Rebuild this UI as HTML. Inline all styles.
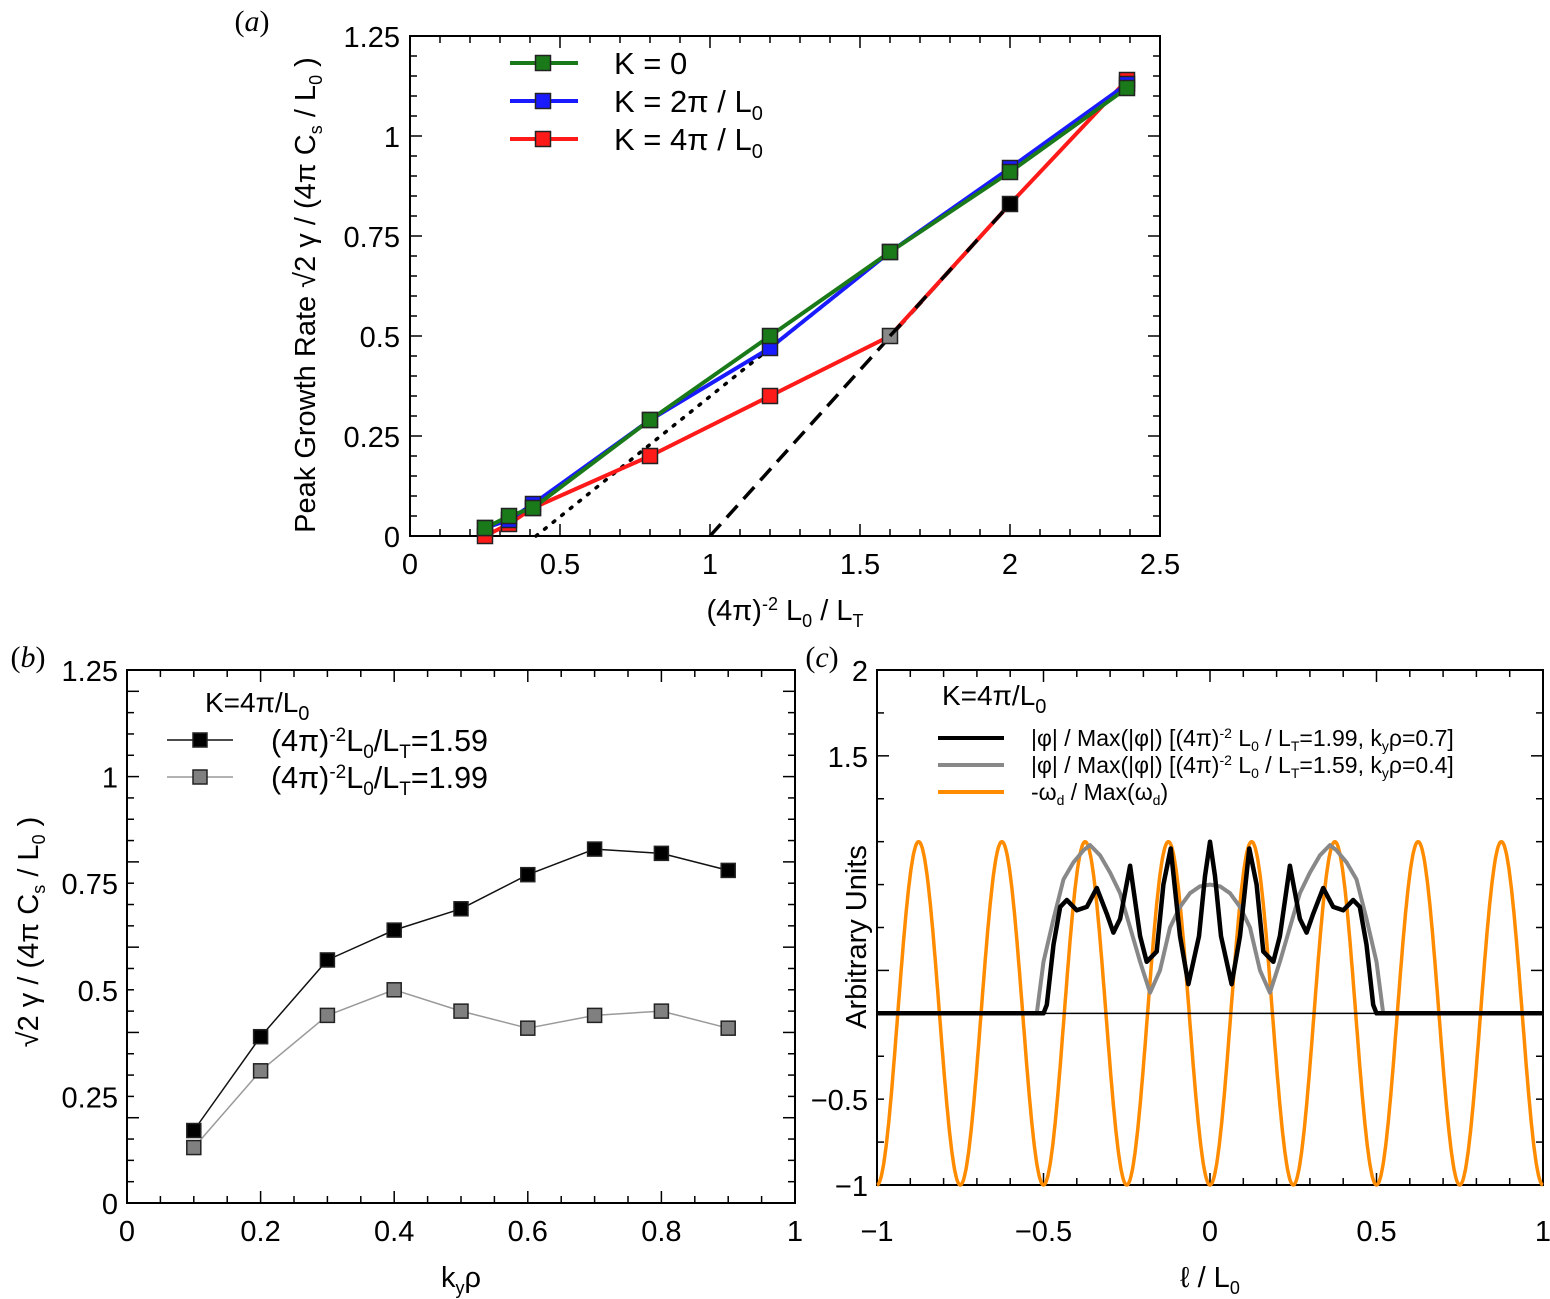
<!DOCTYPE html>
<html><head><meta charset="utf-8"><style>
html,body{margin:0;padding:0;background:#fff;}
svg{display:block;font-family:"Liberation Sans",sans-serif;}
</style></head><body>
<svg id="fig" width="1550" height="1299" viewBox="0 0 1550 1299" xmlns="http://www.w3.org/2000/svg"></svg>
<script>
// ---------- Panel (a) data ----------
const aX = [0.25, 0.33, 0.41, 0.8, 1.2, 1.6, 2.0, 2.39];
const aK0 = [0.02, 0.05, 0.07, 0.29, 0.50, 0.71, 0.91, 1.12];
const aK2 = [0.02, 0.04, 0.08, 0.29, 0.47, 0.71, 0.92, 1.13];
const aK4 = [0.00, 0.03, 0.07, 0.20, 0.35, 0.50, 0.83, 1.14];
const aDotted = [[0.42, 0], [1.6, 0.71]];
const aDashed = [[1.0, 0], [2.0, 0.83]];
const aXTicks = [0, 0.5, 1, 1.5, 2, 2.5];
const aYTicks = [0, 0.25, 0.5, 0.75, 1, 1.25];
const aYTickLabels = ["0", "0.25", "0.5", "0.75", "1", "1.25"];
// ---------- Panel (b) data ----------
const bX = [0.1, 0.2, 0.3, 0.4, 0.5, 0.6, 0.7, 0.8, 0.9];
const bLT159 = [0.17, 0.39, 0.57, 0.64, 0.69, 0.77, 0.83, 0.82, 0.78];
const bLT199 = [0.13, 0.31, 0.44, 0.50, 0.45, 0.41, 0.44, 0.45, 0.41];
const bXTicks = [0, 0.2, 0.4, 0.6, 0.8, 1];
const bYTicks = [0, 0.25, 0.5, 0.75, 1, 1.25];
// ---------- Panel (c) data ----------
const cPhiBlackL = [-1, -0.5, -0.49, -0.47, -0.45, -0.43, -0.40, -0.37, -0.34, -0.31, -0.29, -0.27, -0.24, -0.21, -0.19, -0.16, -0.14, -0.118, -0.09, -0.065, -0.033, -0.015, 0, 0.015, 0.033, 0.065, 0.09, 0.118, 0.14, 0.16, 0.19, 0.21, 0.24, 0.27, 0.29, 0.31, 0.34, 0.37, 0.40, 0.43, 0.45, 0.47, 0.49, 0.5, 1];
const cPhiBlackV = [0, 0, 0.05, 0.40, 0.62, 0.66, 0.60, 0.62, 0.73, 0.58, 0.47, 0.55, 0.86, 0.45, 0.30, 0.36, 0.75, 0.96, 0.45, 0.17, 0.45, 0.80, 1.0, 0.80, 0.45, 0.17, 0.45, 0.96, 0.75, 0.36, 0.30, 0.45, 0.86, 0.55, 0.47, 0.58, 0.73, 0.62, 0.60, 0.66, 0.62, 0.40, 0.05, 0, 0];
const cPhiGrayL = [-1, -0.52, -0.50, -0.47, -0.44, -0.41, -0.38, -0.36, -0.33, -0.30, -0.27, -0.24, -0.21, -0.18, -0.15, -0.12, -0.09, -0.06, -0.03, 0, 0.03, 0.06, 0.09, 0.12, 0.15, 0.18, 0.21, 0.24, 0.27, 0.30, 0.33, 0.36, 0.38, 0.41, 0.44, 0.47, 0.50, 0.52, 1];
const cPhiGrayV = [0, 0, 0.30, 0.55, 0.78, 0.88, 0.95, 0.98, 0.92, 0.82, 0.70, 0.50, 0.30, 0.12, 0.25, 0.50, 0.62, 0.70, 0.74, 0.75, 0.74, 0.70, 0.62, 0.50, 0.25, 0.12, 0.30, 0.50, 0.70, 0.82, 0.92, 0.98, 0.95, 0.88, 0.78, 0.55, 0.30, 0, 0];
const cOmegaPeriod = [0.25];
const cOmegaAmp = [1];
const cXTicks = [-1, -0.5, 0, 0.5, 1];
const cXTickLabels = ["\u22121", "\u22120.5", "0", "0.5", "1"];
const cYTicksLabeled = [-1, -0.5, 1.5, 2];
const cYTickLabels = ["\u22121", "\u22120.5", "1.5", "2"];

const NS = "http://www.w3.org/2000/svg";
const svg = document.getElementById("fig");
function mk(tag, attrs, parent) {
  const e = document.createElementNS(NS, tag);
  for (const k in attrs) e.setAttribute(k, attrs[k]);
  (parent || svg).appendChild(e);
  return e;
}
function txt(s, x, y, size, anchor, parent, extra) {
  const t = mk("text", Object.assign({x: x, y: y, "font-size": size, "text-anchor": anchor || "middle", fill: "#000"}, extra || {}), parent);
  t.innerHTML = s;
  return t;
}
function axes(g, L, R, T, B, xMin, xMax, yMin, yMax, xMinor, yMinor, tl) {
  const sx = v => L + (v - xMin) / (xMax - xMin) * (R - L);
  const sy = v => B - (v - yMin) / (yMax - yMin) * (B - T);
  const box = mk("rect", {x: L, y: T, width: R - L, height: B - T, fill: "none", stroke: "#000", "stroke-width": 2}, g);
  
  
  for (let i = 0; ; i++) {
    const v = xMin + i * xMinor; if (v > xMax + 1e-9) break;
    const major = Math.abs((v - xMin) / (xMinor * tl) - Math.round((v - xMin) / (xMinor * tl))) < 1e-6;
    const len = major ? 12 : 7;
    mk("line", {x1: sx(v), x2: sx(v), y1: B, y2: B - len, stroke: "#000", "stroke-width": 1.5}, g);
    mk("line", {x1: sx(v), x2: sx(v), y1: T, y2: T + len, stroke: "#000", "stroke-width": 1.5}, g);
  }
  for (let i = 0; ; i++) {
    const v = yMin + i * yMinor; if (v > yMax + 1e-9) break;
    const major = Math.abs((v - yMin) / (yMinor * tl) - Math.round((v - yMin) / (yMinor * tl))) < 1e-6;
    const len = major ? 12 : 7;
    mk("line", {x1: L, x2: L + len, y1: sy(v), y2: sy(v), stroke: "#000", "stroke-width": 1.5}, g);
    mk("line", {x1: R, x2: R - len, y1: sy(v), y2: sy(v), stroke: "#000", "stroke-width": 1.5}, g);
  }
  return {sx, sy};
}
function poly(g, xs, ys, sx, sy, color, w, dash) {
  const pts = xs.map((x, i) => sx(x).toFixed(1) + "," + sy(ys[i]).toFixed(1)).join(" ");
  const a = {points: pts, fill: "none", stroke: color, "stroke-width": w, "stroke-linejoin": "round"};
  if (dash) a["stroke-dasharray"] = dash;
  return mk("polyline", a, g);
}
function marker(g, x, y, fill, s) {
  s = s || 15;
  return mk("rect", {x: x - s / 2, y: y - s / 2, width: s, height: s, fill: fill, stroke: "#222", "stroke-width": 1.5}, g);
}

// ================= Panel (a) =================
const ga = mk("g", {});


const A = axes(ga, 410, 1160, 36, 536, 0, 2.5, 0, 1.25, 0.1, 0.05, 5);
aXTicks.forEach(v => { const t = txt(String(v), A.sx(v), 574, 29, "middle", ga);
    });
aYTicks.forEach((v, i) => { const t = txt(aYTickLabels[i], 400, A.sy(v) + 11, 29, "end", ga);
    });
const aXt = txt('(4π)<tspan dy="-10" font-size="18">-2</tspan><tspan dy="10"> L</tspan><tspan dy="7" font-size="18">0</tspan><tspan dy="-7"> / L</tspan><tspan dy="7" font-size="18">T</tspan>', 785, 620, 29, "middle", ga);


const aYt = txt('Peak Growth Rate √2 γ / (4π C<tspan dy="7" font-size="18">s</tspan><tspan dy="-7"> / L</tspan><tspan dy="7" font-size="18">0</tspan><tspan dy="-7"> )</tspan>', 0, 0, 29, "middle", ga, {transform: "translate(315,295) rotate(-90)"});


const la = txt("(<tspan font-style='italic'>a</tspan>)", 252, 31, 30, "middle", ga, {"font-family": "Liberation Serif, serif"});



const dot = poly(ga, aDotted.map(p => p[0]), aDotted.map(p => p[1]), A.sx, A.sy, "#000", 3.5, "2 9");
dot.setAttribute('stroke-linecap', 'round');


const dsh = poly(ga, aDashed.map(p => p[0]), aDashed.map(p => p[1]), A.sx, A.sy, "#000", 3.5, "16 9");



const aSeries = [[aK4, "#ff1a1a", "series-k-4pi"], [aK2, "#1a1aff", "series-k-2pi"], [aK0, "#1a7a1a", "series-k-0"]];
aSeries.forEach(s => {
  const l = poly(ga, aX, s[0], A.sx, A.sy, s[1], 4);
  
  
  aX.forEach((x, i) => {
    let f = s[1];
    if (s[2] === "series-k-4pi" && i === 5) f = "#888";
    if (s[2] === "series-k-4pi" && i === 6) f = "#000";
    const m = marker(ga, A.sx(x), A.sy(s[0][i]), f, 15);
    
    
  });
});
const dsh2 = poly(ga, [1.6, 2.0], [0.5, 0.83], A.sx, A.sy, "#000", 3.5, "16 22");


const aLeg = [["K = 0", "#1a7a1a", 63], ["K = 2π / L<tspan dy='8' font-size='20'>0</tspan>", "#1a1aff", 101], ["K = 4π / L<tspan dy='8' font-size='20'>0</tspan>", "#ff1a1a", 139]];
aLeg.forEach(e => {
  const g = mk("g", {}, ga);
  
  
  mk("line", {x1: 510, x2: 578, y1: e[2], y2: e[2], stroke: e[1], "stroke-width": 4}, g);
  marker(g, 543, e[2], e[1], 15);
  txt(e[0], 614, e[2] + 11, 31, "start", g);
});

// ================= Panel (b) =================
const gb = mk("g", {});


const B = axes(gb, 127, 795, 670, 1203, 0, 1, 0, 1.25, 0.05, 0.05, 4);
bXTicks.forEach(v => { const t = txt(String(v), B.sx(v), 1241, 29, "middle", gb);
    });
bYTicks.forEach(v => { const t = txt(String(v), 118, B.sy(v) + 11, 29, "end", gb);
    });
const bXt = txt('k<tspan dy="7" font-size="18">y</tspan><tspan dy="-7">ρ</tspan>', 461, 1287, 29, "middle", gb);


const bYt = txt('√2 γ / (4π C<tspan dy="7" font-size="18">s</tspan><tspan dy="-7"> / L</tspan><tspan dy="7" font-size="18">0</tspan><tspan dy="-7"> )</tspan>', 0, 0, 29, "middle", gb, {transform: "translate(38,932) rotate(-90)"});


const lb = txt("(<tspan font-style='italic'>b</tspan>)", 28, 667, 30, "middle", gb, {"font-family": "Liberation Serif, serif"});


const bT = txt('K=4π/L<tspan dy="8" font-size="20">0</tspan>', 205, 712, 28, "start", gb);


const bl2 = poly(gb, bX, bLT199, B.sx, B.sy, "#999", 1.5);


const bl1 = poly(gb, bX, bLT159, B.sx, B.sy, "#111", 1.5);


bX.forEach((x, i) => {
  const m = marker(gb, B.sx(x), B.sy(bLT199[i]), "#808080", 14);
  
  
  const n = marker(gb, B.sx(x), B.sy(bLT159[i]), "#000", 14);
  
  
});
[["#000", "#111", 740, "1.59"], ["#808080", "#999", 777, "1.99"]].forEach(e => {
  const g = mk("g", {}, gb);
  
  
  mk("line", {x1: 167, x2: 233, y1: e[2], y2: e[2], stroke: e[1], "stroke-width": 1.5}, g);
  marker(g, 200, e[2], e[0], 14);
  txt('(4π)<tspan dy="-10" font-size="19">-2</tspan><tspan dy="10">L</tspan><tspan dy="7" font-size="19">0</tspan><tspan dy="-7">/L</tspan><tspan dy="7" font-size="19">T</tspan><tspan dy="-7">=' + e[3] + '</tspan>', 271, e[2] + 11, 30.5, "start", g);
});

// ================= Panel (c) =================
const gc = mk("g", {});


const C = axes(gc, 877, 1543, 670, 1185, -1, 1, -1, 2, 0.1, 0.25, 5);
cXTicks.forEach((v, i) => { const t = txt(cXTickLabels[i], C.sx(v), 1241, 29, "middle", gc);
    });
cYTicksLabeled.forEach((v, i) => { const t = txt(cYTickLabels[i], 868, C.sy(v) + 11, 29, "end", gc);
    });
const cXt = txt('ℓ / L<tspan dy="7" font-size="18">0</tspan>', 1210, 1287, 29, "middle", gc);


const cYt = txt('Arbitrary Units', 0, 0, 29, "middle", gc, {transform: "translate(866,937) rotate(-90)"});


const lc = txt("(<tspan font-style='italic'>c</tspan>)", 822, 667, 30, "middle", gc, {"font-family": "Liberation Serif, serif"});


const oL = [], oV = [];
for (let i = 0; i <= 800; i++) { const l = -1 + i * 2 / 800; oL.push(l); oV.push(-cOmegaAmp[0] * Math.cos(2 * Math.PI * (l + 1) / cOmegaPeriod[0])); }
const ol = poly(gc, oL, oV, C.sx, C.sy, "#ff8c00", 3.5);


const zl = mk("line", {x1: 877, x2: 1543, y1: C.sy(0), y2: C.sy(0), stroke: "#000", "stroke-width": 1.5}, gc);


const gl = poly(gc, cPhiGrayL, cPhiGrayV, C.sx, C.sy, "#888", 4);


const bk = poly(gc, cPhiBlackL, cPhiBlackV, C.sx, C.sy, "#000", 4.5);


const cT = txt('K=4π/L<tspan dy="8" font-size="20">0</tspan>', 942, 705, 28, "start", gc);


const cLeg = [
  ["#000", 738, '|φ| / Max(|φ|) [(4π)<tspan dy="-8" font-size="14">-2</tspan><tspan dy="8"> L</tspan><tspan dy="5" font-size="14">0</tspan><tspan dy="-5"> / L</tspan><tspan dy="5" font-size="14">T</tspan><tspan dy="-5">=1.99, k</tspan><tspan dy="5" font-size="14">y</tspan><tspan dy="-5">ρ=0.7]</tspan>'],
  ["#888", 765, '|φ| / Max(|φ|) [(4π)<tspan dy="-8" font-size="14">-2</tspan><tspan dy="8"> L</tspan><tspan dy="5" font-size="14">0</tspan><tspan dy="-5"> / L</tspan><tspan dy="5" font-size="14">T</tspan><tspan dy="-5">=1.59, k</tspan><tspan dy="5" font-size="14">y</tspan><tspan dy="-5">ρ=0.4]</tspan>'],
  ["#ff8c00", 792, '-ω<tspan dy="5" font-size="14">d</tspan><tspan dy="-5"> / Max(ω</tspan><tspan dy="5" font-size="14">d</tspan><tspan dy="-5">)</tspan>']
];
cLeg.forEach(e => {
  const g = mk("g", {}, gc);
  
  
  mk("line", {x1: 938, x2: 1004, y1: e[1], y2: e[1], stroke: e[0], "stroke-width": 4}, g);
  txt(e[2], 1031, e[1] + 8, 23, "start", g);
});
</script>
</body></html>
